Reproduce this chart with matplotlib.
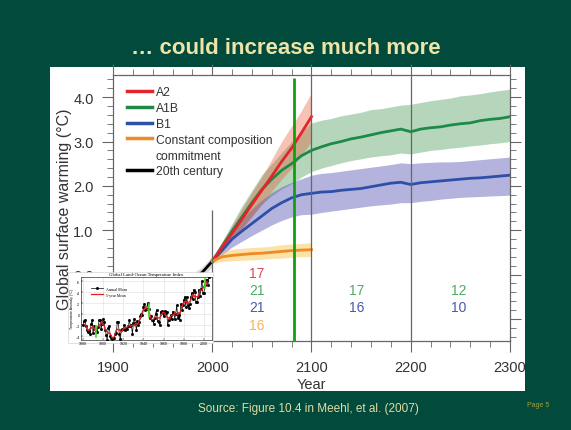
import numpy as np
import pandas as pd
import matplotlib
matplotlib.use('Agg')
import matplotlib.pyplot as plt
from matplotlib.patches import Rectangle
from matplotlib.lines import Line2D
from matplotlib.ticker import MultipleLocator, FixedLocator, FormatStrFormatter

plt.rcParams['font.family'] = ['Liberation Sans', 'DejaVu Sans']

# ---- projections (decadal values) ----
yrs_c21 = [2000, 2010, 2020, 2030, 2040, 2050, 2060, 2070, 2080, 2090, 2100]
a2 = [0.30, 0.62, 0.93, 1.25, 1.58, 1.90, 2.22, 2.55, 2.85, 3.20, 3.56]
a2_hi = [0.35, 0.72, 1.10, 1.48, 1.85, 2.20, 2.60, 3.00, 3.35, 3.70, 4.10]
a2_lo = [0.25, 0.52, 0.78, 1.02, 1.30, 1.60, 1.88, 2.15, 2.40, 2.70, 3.00]
commit = [0.30, 0.40, 0.43, 0.45, 0.47, 0.48, 0.50, 0.52, 0.54, 0.55, 0.56]
commit_hi = [0.35, 0.52, 0.57, 0.59, 0.61, 0.62, 0.64, 0.67, 0.69, 0.70, 0.72]
commit_lo = [0.25, 0.29, 0.31, 0.32, 0.33, 0.34, 0.36, 0.37, 0.39, 0.40, 0.41]

yrs_long = list(range(2000, 2301, 10))
a1b = [0.30, 0.64, 0.98, 1.30, 1.62, 1.92, 2.15, 2.35, 2.50, 2.68, 2.80,
       2.88, 2.95, 3.00, 3.06, 3.10, 3.15, 3.20, 3.24, 3.28, 3.22,
       3.28, 3.31, 3.33, 3.37, 3.40, 3.42, 3.47, 3.50, 3.52, 3.56]
a1b_hi = [0.35, 0.75, 1.15, 1.55, 1.90, 2.25, 2.50, 2.75, 3.00, 3.22, 3.42,
          3.48, 3.52, 3.58, 3.62, 3.66, 3.72, 3.74, 3.78, 3.82, 3.84,
          3.88, 3.92, 3.95, 3.98, 4.03, 4.05, 4.08, 4.12, 4.15, 4.18]
a1b_lo = [0.25, 0.52, 0.80, 1.05, 1.32, 1.58, 1.78, 1.93, 2.05, 2.20, 2.32,
          2.40, 2.46, 2.52, 2.57, 2.61, 2.65, 2.68, 2.70, 2.74, 2.72,
          2.76, 2.80, 2.82, 2.85, 2.87, 2.90, 2.92, 2.95, 2.97, 3.00]
b1 = [0.30, 0.55, 0.80, 0.98, 1.15, 1.32, 1.49, 1.62, 1.73, 1.80, 1.83,
      1.86, 1.87, 1.90, 1.92, 1.94, 1.98, 2.02, 2.06, 2.08, 2.03,
      2.07, 2.09, 2.11, 2.13, 2.15, 2.17, 2.18, 2.20, 2.22, 2.24]
b1_hi = [0.35, 0.68, 1.00, 1.25, 1.48, 1.68, 1.85, 1.98, 2.08, 2.16, 2.24,
         2.28, 2.30, 2.33, 2.36, 2.39, 2.42, 2.45, 2.48, 2.52, 2.50,
         2.52, 2.53, 2.54, 2.54, 2.55, 2.57, 2.59, 2.61, 2.63, 2.65]
b1_lo = [0.25, 0.45, 0.62, 0.75, 0.88, 1.00, 1.12, 1.22, 1.30, 1.35, 1.36,
         1.40, 1.43, 1.46, 1.49, 1.52, 1.55, 1.57, 1.59, 1.62, 1.62,
         1.65, 1.67, 1.70, 1.72, 1.74, 1.75, 1.76, 1.77, 1.78, 1.79]

yrs_c20 = [1900, 1910, 1920, 1930, 1940, 1950, 1960, 1970, 1980, 1990, 2000]
c20 = [-0.55, -0.65, -0.50, -0.40, -0.20, -0.30, -0.30, -0.30, -0.10, 0.05, 0.30]

# model counts printed under the curves
counts = [(2045, 0.04, '17', '#d9485f'), (2045, -0.35, '21', '#4faa6a'),
          (2045, -0.73, '21', '#4b5aa8'), (2045, -1.13, '16', '#f5b45c'),
          (2146, -0.35, '17', '#4faa6a'), (2146, -0.73, '16', '#4b5aa8'),
          (2248, -0.35, '12', '#4faa6a'), (2248, -0.73, '10', '#4b5aa8')]

# ---- inset: GISS annual mean anomaly 1880-2005 ----
giss_years = list(range(1880, 2006))
giss = [-0.20, -0.12, -0.10, -0.21, -0.28, -0.33, -0.31, -0.36, -0.17, -0.10,
        -0.35, -0.22, -0.27, -0.31, -0.32, -0.23, -0.11, -0.11, -0.27, -0.17,
        -0.08, -0.15, -0.28, -0.37, -0.47, -0.26, -0.22, -0.39, -0.43, -0.48,
        -0.43, -0.44, -0.36, -0.34, -0.15, -0.14, -0.36, -0.46, -0.29, -0.27,
        -0.27, -0.19, -0.28, -0.26, -0.27, -0.22, -0.10, -0.22, -0.20, -0.36,
        -0.16, -0.09, -0.16, -0.29, -0.12, -0.20, -0.15, -0.03, -0.00, -0.02,
        0.13, 0.19, 0.07, 0.09, 0.20, 0.09, -0.07, -0.03, -0.11, -0.11,
        -0.17, -0.07, 0.01, 0.08, -0.13, -0.14, -0.19, 0.05, 0.06, 0.03,
        -0.03, 0.06, 0.03, 0.05, -0.20, -0.11, -0.06, -0.02, -0.08, 0.05,
        0.03, -0.08, 0.01, 0.16, -0.07, -0.01, -0.10, 0.18, 0.07, 0.16,
        0.26, 0.32, 0.14, 0.31, 0.16, 0.12, 0.18, 0.32, 0.39, 0.27,
        0.45, 0.40, 0.22, 0.23, 0.31, 0.45, 0.33, 0.46, 0.61, 0.38,
        0.39, 0.54, 0.63, 0.62, 0.54, 0.68]
green_marks = [(1893, -0.42, -0.21), (1945, -0.05, 0.18), (2001, 0.48, 0.65)]

bg = '#024a3b'
fig = plt.figure(figsize=(5.71, 4.31), dpi=100, facecolor=bg)
W, H = 571, 431

def frect(x0, y0, x1, y1):
    # pixel box (top-left origin) -> figure fraction rect
    return [x0 / W, 1 - y1 / H, (x1 - x0) / W, (y1 - y0) / H]

fig.add_artist(Rectangle((50 / W, 1 - 392 / H), 475 / W, 324 / H,
                         transform=fig.transFigure, facecolor='white',
                         edgecolor='none', zorder=-1))

fig.text(0.5, 1 - 49 / H, '\u2026 could increase much more', ha='center', va='center',
         fontsize=16, fontweight='bold', color='#ece4a8')
fig.text(308 / W, 1 - 409 / H, 'Source: Figure 10.4 in Meehl, et al. (2007)',
         ha='center', va='center', fontsize=8.5, color='#e3dca2')
fig.text(538 / W, 1 - 406 / H, 'Page 5', ha='center', va='center',
         fontsize=5, color='#a0a040')

ax = fig.add_axes(frect(113, 76, 510, 342))
ax.set_facecolor('white')

ax.fill_between(yrs_c20, np.array(c20) - 0.12, np.array(c20) + 0.12, color='#888888', alpha=0.3, lw=0)
ax.plot(yrs_c20, c20, color='black', lw=2)

ax.fill_between(yrs_long, a1b_lo, a1b_hi, color='#2e8b3e', alpha=0.35, lw=0)
ax.fill_between(yrs_long, b1_lo, b1_hi, color='#4a4ab0', alpha=0.42, lw=0)
ax.fill_between(yrs_c21, a2_lo, a2_hi, color='#e85030', alpha=0.35, lw=0)
ax.fill_between(yrs_c21, commit_lo, commit_hi, color='#f8c040', alpha=0.45, lw=0)

ax.plot(yrs_long, b1, color='#2e4fa8', lw=2)
ax.plot(yrs_long, a1b, color='#1e8a46', lw=2)
ax.plot(yrs_c21, a2, color='#e3242b', lw=2)
ax.plot(yrs_c21, commit, color='#f08a24', lw=2)

ax.vlines([2100, 2200], -1.5, 4.5, color='#666666', lw=0.9)
ax.vlines(2000, -1.5, 1.45, color='#666666', lw=0.9)
ax.vlines(2082, -1.5, 4.43, color='#10a010', lw=2, zorder=5)

for x, y, s, c in counts:
    ax.text(x, y, s, ha='center', va='center', fontsize=10, color=c)

ax.set_xlim(1900, 2300)
ax.set_ylim(-1.5, 4.5)
ax.xaxis.set_major_locator(MultipleLocator(100))
ax.xaxis.set_minor_locator(MultipleLocator(20))
ax.yaxis.set_major_locator(FixedLocator([-1.0, 0.0, 1.0, 2.0, 3.0, 4.0]))
ax.yaxis.set_minor_locator(MultipleLocator(0.2))
ax.yaxis.set_major_formatter(FormatStrFormatter('%.1f'))
ax.tick_params(which='both', direction='out', top=True, right=True,
               color='#666666', labelsize=10.5, labelcolor='#333333')
ax.tick_params(which='major', length=8, width=0.8, pad=6)
ax.tick_params(which='minor', length=4, width=0.6)
# the -1.0 label sits under the pasted inset
ax.get_yticklabels()[0].set_visible(False)
for sp in ax.spines.values():
    sp.set_color('#666666')
    sp.set_linewidth(0.9)
ax.set_xlabel('Year', fontsize=10.5, color='#333333', labelpad=2)
ax.set_ylabel('Global surface warming (\u00b0C)', fontsize=11.5, color='#333333', labelpad=1)

handles = [Line2D([], [], color='#e3242b', lw=2.5),
           Line2D([], [], color='#1e8a46', lw=2.5),
           Line2D([], [], color='#2e4fa8', lw=2.5),
           Line2D([], [], color='#f08a24', lw=2.5),
           Line2D([], [], color='none'),
           Line2D([], [], color='black', lw=2.5)]
labels = ['A2', 'A1B', 'B1', 'Constant composition', 'commitment', '20th century']
ax.legend(handles, labels, loc='upper left', frameon=False, fontsize=8.7,
          handlelength=2.0, handletextpad=0.35, labelspacing=0.32,
          borderaxespad=0.3, bbox_to_anchor=(0.015, 0.99), labelcolor='#333333')

# ---- inset picture of the observed record ----
fig.add_artist(Rectangle((68 / W, 1 - 344 / H), 145 / W, 71 / H,
                         transform=fig.transFigure, facecolor='white',
                         edgecolor='#cccccc', lw=0.4, zorder=3))
ix = fig.add_axes(frect(81, 278, 212, 341))
ix.set_zorder(4)
s = pd.Series(giss, index=giss_years)
ix.plot(giss_years, giss, color='black', lw=0.5, marker='s', ms=1.0)
ix.plot(giss_years, s.rolling(5, center=True).mean(), color='#e02020', lw=0.9)
for yr, lo, hi in green_marks:
    ix.plot([yr, yr], [lo, hi], color='#40e020', lw=1.2)
ix.set_xlim(1878, 2008)
ix.set_ylim(-0.47, 0.68)
ix.set_xticks(range(1880, 2001, 20))
ix.set_yticks([-0.4, -0.2, 0, 0.2, 0.4, 0.6])
ix.set_yticklabels(['-.4', '-.2', '0', '.2', '.4', '.6'])
ix.grid(True, color='#dddddd', lw=0.4)
ix.tick_params(labelsize=2.6, length=1.2, width=0.3, pad=1, direction='in')
for sp in ix.spines.values():
    sp.set_linewidth(0.4)
ix.set_ylabel('Temperature Anomaly (\u00b0C)', fontsize=2.4, labelpad=1)
ix.set_title('Global Land-Ocean Temperature Index', fontsize=3.4,
             family='Liberation Serif', pad=1.5)
ix.legend([Line2D([], [], color='black', lw=0.5, marker='s', ms=1.0),
           Line2D([], [], color='#e02020', lw=0.9)],
          ['Annual Mean', '5-year Mean'], loc='upper left',
          frameon=False, handlelength=3, bbox_to_anchor=(0.05, 0.9),
          prop={'family': 'Liberation Serif', 'size': 2.8})

fig.savefig('out.png', dpi=100, facecolor=bg)
